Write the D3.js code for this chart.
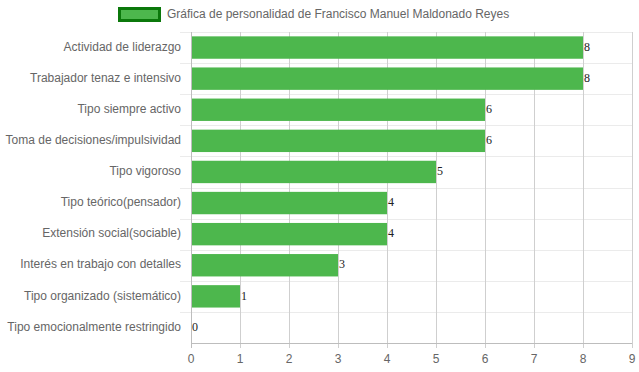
<!DOCTYPE html>
<html>
<head>
<meta charset="utf-8">
<script src="https://cdn.jsdelivr.net/npm/d3@7"></script>
<style>
  body { margin: 0; background: #fff; }
  svg { display: block; font-family: "Liberation Sans", Arial, sans-serif; }
</style>
</head>
<body>
<div id="chart"></div>
<script>
// DATA
const categories = [
  "Actividad de liderazgo",
  "Trabajador tenaz e intensivo",
  "Tipo siempre activo",
  "Toma de decisiones/impulsividad",
  "Tipo vigoroso",
  "Tipo teórico(pensador)",
  "Extensión social(sociable)",
  "Interés en trabajo con detalles",
  "Tipo organizado (sistemático)",
  "Tipo emocionalmente restringido"
];
const values = [8, 8, 6, 6, 5, 4, 4, 3, 1, 0];
const xTicks = [0, 1, 2, 3, 4, 5, 6, 7, 8, 9];
const seriesName = "Gráfica de personalidad de Francisco Manuel Maldonado Reyes";

const width = 639, height = 372;
const margin = { top: 32, right: 7, bottom: 29, left: 191 };
const barColor = "#4db74d";

const svg = d3.select('#chart').append('svg')
    .attr('width', width)
    .attr('height', height);

const x = d3.scaleLinear()
    .domain([0, 9])
    .range([margin.left, width - margin.right]);

const y = d3.scaleBand()
    .domain(categories)
    .range([margin.top, height - margin.bottom]);

// horizontal grid (category boundaries)
svg.append('g')
    .selectAll('line')
    .data(categories)
    .enter().append('line')
        .attr('x1', margin.left - 11)
        .attr('x2', width - margin.right)
        .attr('y1', d => Math.round(y(d)) + 0.5)
        .attr('y2', d => Math.round(y(d)) + 0.5)
        .attr('stroke', '#ebebeb');

// vertical grid
svg.append('g')
    .selectAll('line')
    .data(xTicks)
    .enter().append('line')
        .attr('x1', d => Math.round(x(d)) + 0.5)
        .attr('x2', d => Math.round(x(d)) + 0.5)
        .attr('y1', margin.top)
        .attr('y2', height - margin.bottom + 5)
        .attr('stroke', d => d === 0 ? '#bdbdbd' : '#cfcfcf');

// bottom axis line
svg.append('line')
    .attr('x1', margin.left)
    .attr('x2', width - margin.right)
    .attr('y1', height - margin.bottom + 0.5)
    .attr('y2', height - margin.bottom + 0.5)
    .attr('stroke', '#bdbdbd');

// x tick labels
svg.append('g')
    .selectAll('text')
    .data(xTicks)
    .enter().append('text')
        .attr('x', d => x(d))
        .attr('y', height - margin.bottom + 16)
        .attr('dy', '0.35em')
        .attr('text-anchor', 'middle')
        .attr('font-size', 12)
        .attr('fill', '#666')
        .text(d => d);

// y labels
svg.append('g')
    .selectAll('text')
    .data(categories)
    .enter().append('text')
        .attr('x', margin.left - 10)
        .attr('y', d => y(d) + y.bandwidth() / 2 - 1)
        .attr('dy', '0.35em')
        .attr('text-anchor', 'end')
        .attr('font-size', 12)
        .attr('fill', '#666')
        .text(d => d);

// bars
const bh = y.bandwidth() * 0.72;
svg.append('g')
    .selectAll('rect')
    .data(values)
    .enter().append('rect')
        .attr('x', x(0) + 1)
        .attr('y', (d, i) => y(categories[i]) + (y.bandwidth() - bh) / 2)
        .attr('width', d => Math.max(0, x(d) - x(0) - 1))
        .attr('height', bh)
        .attr('fill', barColor);

// value labels
svg.append('g')
    .selectAll('text')
    .data(values)
    .enter().append('text')
        .attr('x', d => x(d) + 1)
        .attr('y', (d, i) => y(categories[i]) + y.bandwidth() / 2 - 1)
        .attr('dy', '0.35em')
        .attr('font-family', '"Liberation Serif", "Times New Roman", serif')
        .attr('font-size', 12)
        .attr('fill', '#222')
        .text(d => d);

// legend
const legend = svg.append('g');
legend.append('rect')
    .attr('x', 119.5)
    .attr('y', 8.5)
    .attr('width', 40)
    .attr('height', 12)
    .attr('fill', barColor)
    .attr('stroke', '#0b780b')
    .attr('stroke-width', 3);
legend.append('text')
    .attr('x', 167)
    .attr('y', 14)
    .attr('dy', '0.35em')
    .attr('font-size', 12)
    .attr('fill', '#666')
    .text(seriesName);
</script>
</body>
</html>
